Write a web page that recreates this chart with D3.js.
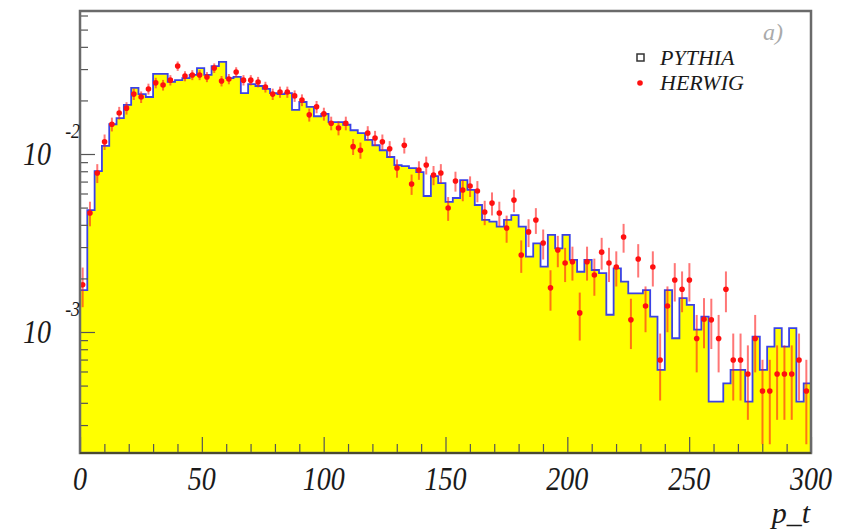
<!DOCTYPE html>
<html>
<head>
<meta charset="utf-8">
<script src="https://cdn.jsdelivr.net/npm/d3@7"></script>
<style>
  html, body { margin: 0; padding: 0; background: #fff; }
  text { font-family: "Liberation Serif", "Times New Roman", serif; font-style: italic; fill: #1a1a1a; }
</style>
</head>
<body>
<svg id="chart" width="844" height="532"></svg>
<script>
// p_t histogram: 100 bins of width 3 between 0 and 300
const ptRange = [0, 300];
const binWidth = 3;

// PYTHIA (filled histogram), one value per bin
const pythia = [
  0.00172, 0.00484, 0.00802, 0.0111, 0.0147, 0.0159, 0.0189, 0.0235, 0.0217, 0.0209,
  0.0282, 0.0282, 0.0254, 0.0260, 0.0267, 0.0278, 0.0304, 0.0278, 0.0312, 0.0329,
  0.0267, 0.0271, 0.0220, 0.0247, 0.0241, 0.0232, 0.0220, 0.0217, 0.0220, 0.0177,
  0.0196, 0.0184, 0.0163, 0.0168, 0.0151, 0.0151, 0.0146, 0.0136, 0.0131, 0.0120,
  0.0112, 0.0105, 0.00962, 0.00867, 0.00856, 0.00834, 0.00792, 0.00581, 0.00752, 0.00687,
  0.00538, 0.00566, 0.00714, 0.00628, 0.00517, 0.00426, 0.00417, 0.00391, 0.00426, 0.00454,
  0.00391, 0.00265, 0.00315, 0.00233, 0.00351, 0.00295, 0.00351, 0.00254, 0.00218, 0.00254,
  0.00223, 0.00214, 0.00125, 0.00228, 0.00192, 0.00165, 0.00165, 0.00172, 0.00122, 0.000612,
  0.00172, 0.000922, 0.00155, 0.00142, 0.00103, 0.00122, 0.000406, 0.000406, 0.000515, 0.000612,
  0.000612, 0.000406, 0.000941, 0.000612, 0.000827, 0.00105, 0.000827, 0.00105, 0.000406, 0.000515
];

// HERWIG (points with error bars), one value per bin
const herwig = [
  0.00184, 0.00466, 0.00782, 0.0117, 0.0147, 0.0170, 0.0181, 0.0217, 0.0209, 0.0232,
  0.0251, 0.0244, 0.0260, 0.0312, 0.0274, 0.0278, 0.0278, 0.0271, 0.0304, 0.0257,
  0.0264, 0.0289, 0.0260, 0.0260, 0.0254, 0.0238, 0.0217, 0.0223, 0.0223, 0.0212,
  0.0201, 0.0166, 0.0184, 0.0168, 0.0149, 0.0140, 0.0149, 0.0110, 0.0105, 0.0131,
  0.0123, 0.0117, 0.0107, 0.00834, 0.0112, 0.00678, 0.00813, 0.00867, 0.00762, 0.00782,
  0.00497, 0.00705, 0.00628, 0.00661, 0.00620, 0.00472, 0.00530, 0.00466, 0.00384, 0.00551,
  0.00271, 0.00365, 0.00426, 0.00316, 0.00177, 0.00289, 0.00244, 0.00248, 0.00128, 0.00248,
  0.00209, 0.00281, 0.00244, 0.00232, 0.00342, 0.00117, 0.00257, 0.00140, 0.00232, 0.000696,
  0.00140, 0.00196, 0.00174, 0.00196, 0.00092, 0.00118, 0.00117, 0.00092, 0.00174, 0.000696,
  0.000696, 0.000581, 0.00092, 0.000466, 0.000466, 0.000581, 0.000581, 0.000581, 0.000696, 0.000466
];

// HERWIG statistical errors per bin
const herwigErr = [
  0.000462, 0.000735, 0.000952, 0.00117, 0.00131, 0.00140, 0.00145, 0.00159, 0.00156, 0.00164,
  0.00171, 0.00168, 0.00174, 0.00190, 0.00178, 0.00180, 0.00180, 0.00177, 0.00188, 0.00173,
  0.00175, 0.00183, 0.00174, 0.00174, 0.00172, 0.00166, 0.00159, 0.00161, 0.00161, 0.00157,
  0.00153, 0.00139, 0.00146, 0.00140, 0.00131, 0.00127, 0.00131, 0.00113, 0.00110, 0.00123,
  0.00119, 0.00117, 0.00111, 0.000983, 0.00114, 0.000887, 0.000971, 0.00100, 0.000940, 0.000952,
  0.000759, 0.000904, 0.000853, 0.000876, 0.000848, 0.000740, 0.000784, 0.000735, 0.000667, 0.000799,
  0.000561, 0.000651, 0.000703, 0.000605, 0.000453, 0.000579, 0.000532, 0.000536, 0.000385, 0.000536,
  0.000492, 0.000571, 0.000532, 0.000519, 0.000630, 0.000368, 0.000546, 0.000403, 0.000519, 0.000284,
  0.000403, 0.000477, 0.000449, 0.000477, 0.000327, 0.000370, 0.000368, 0.000327, 0.000449, 0.000284,
  0.000284, 0.000260, 0.000327, 0.000232, 0.000232, 0.000260, 0.000260, 0.000260, 0.000284, 0.000232
];

// Axes
const yRange = [2.09e-4, 0.0636];
const yMajorTicks = [1e-3, 1e-2];
const yMajorExp = ["-3", "-2"];
const yMinorTicks = [3e-4, 4e-4, 5e-4, 6e-4, 7e-4, 8e-4, 9e-4,
                     2e-3, 3e-3, 4e-3, 5e-3, 6e-3, 7e-3, 8e-3, 9e-3,
                     2e-2, 3e-2, 4e-2, 5e-2, 6e-2];
const xMajorTicks = [0, 50, 100, 150, 200, 250, 300];
const xMinorTicks = [10, 20, 30, 40, 60, 70, 80, 90, 110, 120, 130, 140, 160, 170, 180, 190,
                     210, 220, 230, 240, 260, 270, 280, 290];
const xTitle = "p_t";
const panelTag = "a)";
const seriesNames = ["PYTHIA", "HERWIG"];

const plot = { left: 80, right: 811, top: 11, bottom: 453 };

const svg = d3.select("#chart");
const x = d3.scaleLinear().domain(ptRange).range([plot.left, plot.right]);
const y = d3.scaleLog().domain(yRange).range([plot.bottom, plot.top]);

svg.append("defs").append("clipPath").attr("id", "plotclip")
  .append("rect")
  .attr("x", plot.left).attr("y", plot.top)
  .attr("width", plot.right - plot.left).attr("height", plot.bottom - plot.top);

const bins = pythia.map((v, i) => ({
  lo: ptRange[0] + i * binWidth,
  hi: ptRange[0] + (i + 1) * binWidth,
  p: v, h: herwig[i], e: herwigErr[i]
}));

// outline of the PYTHIA histogram as a closed step path
const outline = [[x(ptRange[0]), y(yRange[0])]];
bins.forEach(b => { outline.push([x(b.lo), y(b.p)]); outline.push([x(b.hi), y(b.p)]); });
outline.push([x(ptRange[1]), y(yRange[0])]);

const g = svg.append("g").attr("clip-path", "url(#plotclip)");

g.append("path")
  .attr("d", d3.line()(outline) + "Z")
  .attr("fill", "#ffff00")
  .attr("stroke", "none");

g.append("path")
  .attr("d", d3.line()(outline))
  .attr("fill", "none")
  .attr("stroke", "#3a42e6")
  .attr("stroke-width", 1.8);

// HERWIG error bars and markers
const hx = b => x((b.lo + b.hi) / 2) - 1;
g.selectAll("line.err").data(bins).join("line")
  .attr("class", "err")
  .attr("x1", hx).attr("x2", hx)
  .attr("y1", b => y(Math.max(b.h + b.e, yRange[0])))
  .attr("y2", b => y(Math.max(b.h - b.e, yRange[0] * 0.9)))
  .attr("stroke", "#ff1a1a")
  .attr("stroke-opacity", 0.6)
  .attr("stroke-width", 2);

g.selectAll("circle.pt").data(bins).join("circle")
  .attr("class", "pt")
  .attr("cx", hx).attr("cy", b => y(b.h))
  .attr("r", 2.8)
  .attr("fill", "#ff1010");

// y axis ticks (pointing into the plot)
const yAxisG = svg.append("g").attr("transform", `translate(${plot.left},0)`);
yAxisG.call(d3.axisRight(y).tickValues(yMinorTicks).tickSize(8).tickFormat(""));
yAxisG.call(g2 => g2.select(".domain").remove());
const yAxisMaj = svg.append("g").attr("transform", `translate(${plot.left},0)`);
yAxisMaj.call(d3.axisRight(y).tickValues(yMajorTicks).tickSize(15).tickFormat(""));
yAxisMaj.call(g2 => g2.select(".domain").remove());
svg.selectAll(".tick line").attr("stroke", "#555").attr("stroke-width", 1.2);

// x axis ticks (pointing up)
const xAxisMin = svg.append("g").attr("transform", `translate(0,${plot.bottom})`);
xAxisMin.call(d3.axisTop(x).tickValues(xMinorTicks).tickSize(9).tickFormat(""));
xAxisMin.call(g2 => g2.select(".domain").remove());
const xAxisMaj = svg.append("g").attr("transform", `translate(0,${plot.bottom})`);
xAxisMaj.call(d3.axisTop(x).tickValues(xMajorTicks).tickSize(16).tickFormat(""));
xAxisMaj.call(g2 => g2.select(".domain").remove());
svg.selectAll(".tick line").attr("stroke", "#555").attr("stroke-width", 1.2);

// frame
svg.append("rect")
  .attr("x", plot.left).attr("y", plot.top)
  .attr("width", plot.right - plot.left).attr("height", plot.bottom - plot.top)
  .attr("fill", "none").attr("stroke", "#6a6a6a").attr("stroke-width", 2.5);
svg.append("line")
  .attr("x1", plot.left).attr("x2", plot.right)
  .attr("y1", plot.bottom).attr("y2", plot.bottom)
  .attr("stroke", "#4a4a30").attr("stroke-width", 2);

// x tick labels
svg.selectAll("text.xlab").data(xMajorTicks).join("text")
  .attr("class", "xlab")
  .attr("transform", d => `translate(${x(d)},490) scale(0.85,1)`)
  .attr("text-anchor", "middle")
  .attr("font-size", 33)
  .text(d => d);

// y tick labels 10^n
yMajorTicks.forEach((v, i) => {
  svg.append("text")
    .attr("transform", `translate(51,${y(v) + 11}) scale(0.85,1)`)
    .attr("text-anchor", "end")
    .attr("font-size", 33)
    .text("10");
  svg.append("text")
    .attr("transform", `translate(80,${y(v) - 16}) scale(0.85,1)`)
    .attr("text-anchor", "end")
    .attr("font-size", 21)
    .text(yMajorExp[i]);
});

// axis title
svg.append("text")
  .attr("transform", `translate(810,523)`)
  .attr("text-anchor", "end")
  .attr("font-size", 30)
  .text(xTitle);

// panel tag
svg.append("text")
  .attr("x", 763).attr("y", 40)
  .attr("font-size", 24)
  .style("fill", "#aaaaaa")
  .text(panelTag);

// legend
svg.append("rect")
  .attr("x", 637).attr("y", 54).attr("width", 7).attr("height", 7)
  .attr("fill", "none").attr("stroke", "#333").attr("stroke-width", 1.5);
svg.append("circle")
  .attr("cx", 640).attr("cy", 83).attr("r", 2.8).attr("fill", "#ff1010");
svg.append("text").attr("x", 660).attr("y", 65).attr("font-size", 22).text(seriesNames[0]);
svg.append("text").attr("x", 660).attr("y", 90).attr("font-size", 22).text(seriesNames[1]);
</script>
</body>
</html>
